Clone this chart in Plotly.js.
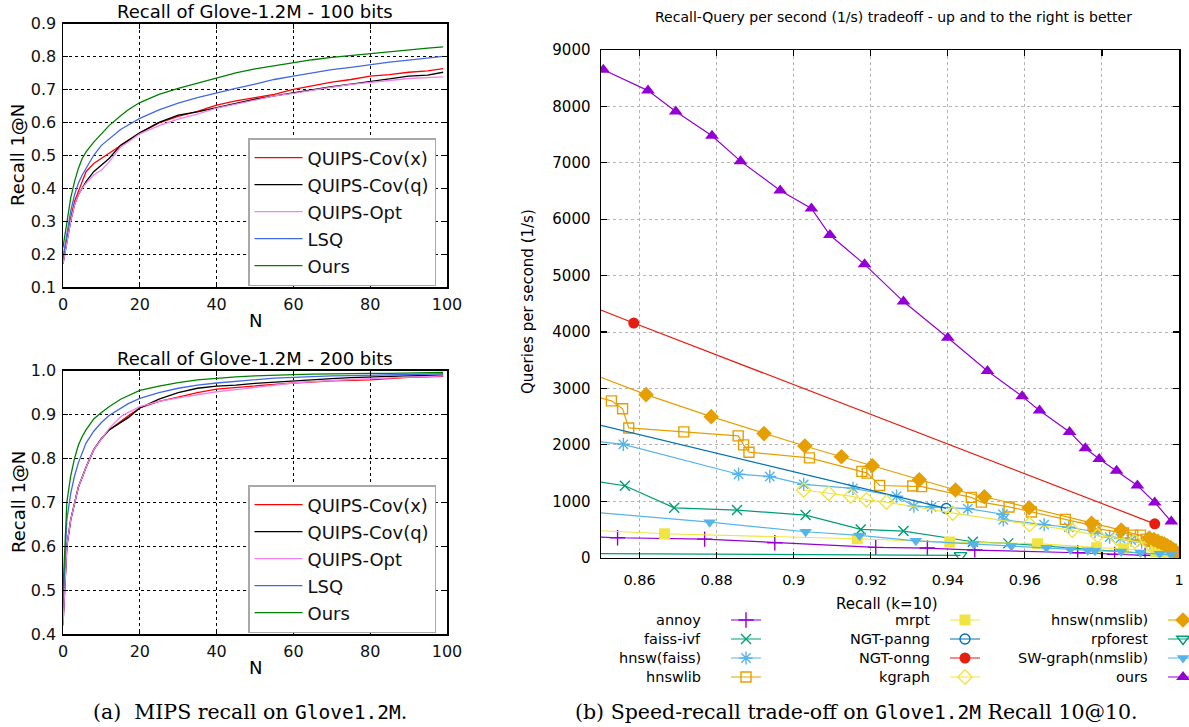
<!DOCTYPE html>
<html>
<head>
<meta charset="utf-8">
<script src="https://cdn.plot.ly/plotly-3.0.1.min.js"></script>
<style>
html,body{margin:0;padding:0;background:#ffffff;}
#chart{width:1189px;height:727px;}
</style>
</head>
<body>
<div id="chart"></div>
<script>
// ---------------- DATA: MIPS recall (left panels) ----------------
const nValues = [0,1,2,3,4,5,6,8,10,12,15,17,20,25,30,35,40,45,50,55,60,65,70,75,80,85,90,95,99];

// 100 bits
const r100CovX = [0.18,0.25,0.31,0.36,0.39,0.42,0.45,0.475,0.49,0.505,0.53,0.545,0.568,0.598,0.618,0.633,0.652,0.665,0.675,0.685,0.70,0.712,0.722,0.73,0.74,0.745,0.752,0.756,0.763];
const r100CovQ = [0.17,0.24,0.30,0.35,0.38,0.40,0.42,0.45,0.47,0.49,0.53,0.545,0.568,0.60,0.622,0.632,0.645,0.658,0.67,0.68,0.69,0.70,0.708,0.716,0.725,0.732,0.74,0.743,0.752];
const r100Opt  = [0.17,0.24,0.30,0.35,0.38,0.40,0.415,0.44,0.455,0.48,0.525,0.54,0.565,0.59,0.61,0.625,0.643,0.655,0.668,0.68,0.688,0.698,0.707,0.715,0.722,0.727,0.733,0.736,0.738];
const r100LSQ  = [0.19,0.26,0.33,0.38,0.415,0.44,0.46,0.50,0.53,0.55,0.578,0.592,0.612,0.638,0.658,0.675,0.69,0.703,0.716,0.73,0.74,0.75,0.76,0.767,0.776,0.783,0.789,0.795,0.80];
const r100Ours = [0.22,0.30,0.37,0.42,0.46,0.49,0.51,0.54,0.565,0.59,0.62,0.638,0.66,0.685,0.703,0.718,0.735,0.75,0.762,0.772,0.782,0.79,0.797,0.803,0.809,0.815,0.82,0.825,0.829];

// 200 bits
const r200CovX = [0.43,0.60,0.66,0.70,0.735,0.757,0.78,0.82,0.845,0.865,0.885,0.897,0.915,0.93,0.94,0.95,0.958,0.962,0.966,0.969,0.972,0.975,0.977,0.978,0.979,0.982,0.985,0.986,0.987];
const r200CovQ = [0.42,0.60,0.66,0.70,0.735,0.757,0.78,0.82,0.845,0.865,0.882,0.893,0.915,0.935,0.95,0.96,0.965,0.967,0.971,0.974,0.976,0.979,0.982,0.984,0.986,0.987,0.988,0.989,0.99];
const r200Opt  = [0.42,0.60,0.66,0.70,0.735,0.757,0.78,0.82,0.845,0.868,0.895,0.905,0.918,0.93,0.938,0.945,0.952,0.957,0.962,0.968,0.972,0.975,0.978,0.98,0.982,0.984,0.986,0.987,0.988];
const r200LSQ  = [0.47,0.66,0.72,0.76,0.79,0.815,0.835,0.862,0.882,0.898,0.915,0.925,0.937,0.95,0.96,0.967,0.972,0.976,0.98,0.983,0.985,0.987,0.988,0.989,0.99,0.991,0.992,0.992,0.993];
const r200Ours = [0.50,0.70,0.76,0.80,0.83,0.85,0.865,0.89,0.905,0.918,0.935,0.943,0.955,0.965,0.973,0.979,0.983,0.986,0.988,0.99,0.991,0.992,0.993,0.993,0.994,0.994,0.995,0.995,0.996];

const mipsNames = ['QUIPS-Cov(x)','QUIPS-Cov(q)','QUIPS-Opt','LSQ','Ours'];
const xTicks = [0,20,40,60,80,100];
const y100Ticks = [0.1,0.2,0.3,0.4,0.5,0.6,0.7,0.8,0.9];
const y200Ticks = [0.4,0.5,0.6,0.7,0.8,0.9,1.0];

// ---------------- DATA: speed / recall trade-off (right panel) ----------------
const annoyRecall = [0.84,0.8543,0.8769,0.8951,0.9213,0.9347,0.9470,0.9737,0.9833,0.9912,0.9976];
const annoyQps    = [394,354,330,265,183,171,136,88,59,41,30];

const faissIvfRecall = [0.84,0.8562,0.8690,0.8853,0.9031,0.9174,0.9285,0.9465,0.9557,0.9994];
const faissIvfQps    = [1444,1275,885,844,755,501,472,283,254,35];

const hnswFaissRecall = [0.84,0.8558,0.8857,0.8938,0.9026,0.9154,0.9267,0.9312,0.9358,0.9452,0.9543,0.9544,0.9650,0.9714,0.9782,0.9820,0.9848,0.9876,0.9903,0.9925,0.9945,0.9960,0.9980,0.9990];
const hnswFaissQps    = [2125,2010,1480,1440,1300,1230,1090,915,900,870,770,670,585,540,460,365,342,313,277,250,210,170,120,80];

const hnswlibRecall = [0.845,0.8527,0.8556,0.8572,0.8715,0.8856,0.8870,0.8884,0.9041,0.9177,0.9191,0.9223,0.9309,0.9332,0.9461,0.9487,0.9559,0.9617,0.9705,0.9777,0.9782,0.9856,0.9880,0.9900,0.9915,0.9930,0.9950,0.9965,0.9980,0.9990];
const hnswlibQps    = [2920,2780,2640,2300,2230,2160,2000,1870,1770,1530,1500,1280,1270,1260,1070,985,900,810,680,570,520,440,400,400,330,290,250,200,150,100];

const mrptRecall = [0.84,0.8665,0.9165,0.9405,0.9633,0.9786,0.9856,0.9940,0.9951,0.9970];
const mrptQps    = [510,425,336,277,248,177,159,112,100,80];

const ngtPanngRecall = [0.83,0.9396];
const ngtPanngQps    = [2677,873];

const ngtOnngRecall = [0.84,0.8585,0.9937];
const ngtOnngQps    = [4660,4160,600];

const kgraphRecall = [0.9026,0.9091,0.9148,0.9189,0.9241,0.9413,0.9612,0.9723,0.9789,0.9839,0.9885,0.9923,0.9945,0.9960,0.9975,0.9988];
const kgraphQps    = [1200,1140,1090,1025,985,790,590,485,390,348,289,248,210,170,130,90];

const hnswNmslibRecall = [0.84,0.8617,0.8786,0.8923,0.9029,0.9124,0.9204,0.9326,0.9420,0.9495,0.9611,0.9773,0.9850,0.9923,0.9935,0.9945,0.9955,0.9962,0.9970,0.9978,0.9985,0.9992,0.9996];
const hnswNmslibQps    = [3460,2890,2500,2200,1980,1790,1630,1380,1200,1080,885,610,490,350,320,290,260,240,210,180,140,100,60];

const rpforestRecall = [0.84,0.9433];
const rpforestQps    = [74,41];

const swGraphRecall = [0.84,0.8782,0.9031,0.9171,0.9317,0.9467,0.9565,0.9656,0.9718,0.9763,0.9782,0.9850,0.9900,0.9950,0.9980];
const swGraphQps    = [855,630,460,395,300,242,206,177,147,130,124,110,90,70,50];

const oursRecall = [0.8506,0.8622,0.8694,0.8788,0.8862,0.8965,0.9046,0.9094,0.9184,0.9285,0.9400,0.9503,0.9593,0.9638,0.9716,0.9757,0.9793,0.9838,0.9892,0.9937,0.9980];
const oursQps    = [8650,8280,7910,7480,7030,6510,6190,5720,5200,4540,3900,3310,2860,2610,2230,1940,1750,1540,1280,980,640];

const speedNames = ['annoy','faiss-ivf','hnsw(faiss)','hnswlib','mrpt','NGT-panng','NGT-onng','kgraph','hnsw(nmslib)','rpforest','SW-graph(nmslib)','ours'];
const recallTicks = [0.86,0.88,0.9,0.92,0.94,0.96,0.98,1.0];
const recallTickText = ['0.86','0.88','0.9','0.92','0.94','0.96','0.98','1'];
const qpsTicks = [0,1000,2000,3000,4000,5000,6000,7000,8000,9000];

// ---------------- LAYOUT HELPERS ----------------
const W = 1189, H = 727;
const px = v => v / W;
const py = v => 1 - v / H;
const SANS = 'DejaVu Sans, sans-serif';

const mipsColors = ['#ff0000','#000000','#ee82ee','#4169e1','#008000'];
const traces = [];

function addMips(series, xa, ya, leg) {
  series.forEach((ys, i) => {
    traces.push({
      x: nValues, y: ys, xaxis: xa, yaxis: ya, type: 'scatter', mode: 'lines',
      name: mipsNames[i], legend: leg, legendgroup: leg + i,
      line: {color: mipsColors[i], width: 1.3}, hoverinfo: 'skip'
    });
  });
}
addMips([r100CovX, r100CovQ, r100Opt, r100LSQ, r100Ours], 'x', 'y', 'legend4');
addMips([r200CovX, r200CovQ, r200Opt, r200LSQ, r200Ours], 'x2', 'y2', 'legend5');

const speedSeries = [
  [annoyRecall, annoyQps, '#9400d3', 'cross-thin-open', 11, 'legend'],
  [faissIvfRecall, faissIvfQps, '#009e73', 'x-thin-open', 10, 'legend'],
  [hnswFaissRecall, hnswFaissQps, '#56b4e9', 'asterisk-open', 11, 'legend'],
  [hnswlibRecall, hnswlibQps, '#e69f00', 'square-open', 10, 'legend'],
  [mrptRecall, mrptQps, '#f0e442', 'square', 11, 'legend2'],
  [ngtPanngRecall, ngtPanngQps, '#0072b2', 'circle-open', 10, 'legend2'],
  [ngtOnngRecall, ngtOnngQps, '#e51e10', 'circle', 11, 'legend2'],
  [kgraphRecall, kgraphQps, '#f0e442', 'diamond-open', 11, 'legend2'],
  [hnswNmslibRecall, hnswNmslibQps, '#e69f00', 'diamond', 12, 'legend3'],
  [rpforestRecall, rpforestQps, '#009e73', 'triangle-down-open', 11, 'legend3'],
  [swGraphRecall, swGraphQps, '#56b4e9', 'triangle-down', 11, 'legend3'],
  [oursRecall, oursQps, '#9400d3', 'triangle-up', 12, 'legend3']
];
speedSeries.forEach(s => {
  const open = s[3].indexOf('open') >= 0;
  traces.push({
    x: s[0], y: s[1], xaxis: 'x3', yaxis: 'y3', type: 'scatter', mode: 'lines+markers',
    name: '', legend: s[5], showlegend: true, hoverinfo: 'skip',
    line: {color: s[2], width: 1.2},
    marker: {symbol: s[3], size: s[4], color: s[2], line: {color: s[2], width: open ? 1.4 : 0}}
  });
});

// ---------------- AXES ----------------
function mipsX(dom, anchor) {
  return {domain: dom, anchor: anchor, range: [0, 100], tickmode: 'array', tickvals: xTicks,
    showgrid: true, gridcolor: '#000', griddash: 'dot', gridwidth: 1, zeroline: false,
    showline: true, linecolor: '#000', linewidth: 1.5, mirror: 'ticks', ticks: 'inside',
    ticklen: 5, tickcolor: '#000', tickfont: {family: SANS, size: 16, color: '#111'},
    ticklabelstandoff: 2};
}
function mipsY(dom, anchor, rng, tv) {
  return {domain: dom, anchor: anchor, range: rng, tickmode: 'array', tickvals: tv, tickformat: '.1f',
    showgrid: true, gridcolor: '#000', griddash: 'dot', gridwidth: 1, zeroline: false,
    showline: true, linecolor: '#000', linewidth: 1.5, mirror: 'ticks', ticks: 'inside',
    ticklen: 5, tickcolor: '#000', tickfont: {family: SANS, size: 16, color: '#111'},
    ticklabelstandoff: 2};
}

const mipsLegend = (top) => ({x: px(248), y: py(top), xanchor: 'left', yanchor: 'top', bgcolor: '#ffffff',
  bordercolor: '#a8a8a8', borderwidth: 1.5, font: {family: SANS, size: 18, color: '#111'},
  traceorder: 'grouped', tracegroupgap: 0.6, itemwidth: 48});
const speedLegend = (left) => ({x: px(left), y: py(605.5), xanchor: 'left', yanchor: 'top',
  bgcolor: 'rgba(0,0,0,0)', borderwidth: 0, font: {size: 10}});

const layout = {
  width: W, height: H,
  margin: {l: 0, r: 0, t: 0, b: 0, autoexpand: false},
  paper_bgcolor: '#ffffff', plot_bgcolor: '#ffffff',
  font: {family: SANS, color: '#000'},
  xaxis: mipsX([px(63), px(447)], 'y'),
  yaxis: mipsY([py(287), py(23.5)], 'x', [0.1, 0.9], y100Ticks),
  xaxis2: mipsX([px(63), px(447)], 'y2'),
  yaxis2: mipsY([py(634), py(370.7)], 'x2', [0.4, 1.0], y200Ticks),
  xaxis3: {domain: [px(601), px(1179)], anchor: 'y3', range: [0.85, 1.0], tickmode: 'array',
    tickvals: recallTicks, ticktext: recallTickText,
    showgrid: true, gridcolor: '#b4b4b4', griddash: 'dot', gridwidth: 1, zeroline: false,
    showline: true, linecolor: '#000', linewidth: 1.5, mirror: 'ticks', ticks: 'inside',
    ticklen: 6, tickwidth: 1.2, tickcolor: '#000', tickfont: {family: SANS, size: 14.5, color: '#000'},
    ticklabelstandoff: 8},
  yaxis3: {domain: [py(557.7), py(50)], anchor: 'x3', range: [0, 9000], tickmode: 'array',
    tickvals: qpsTicks,
    showgrid: true, gridcolor: '#b4b4b4', griddash: 'dot', gridwidth: 1, zeroline: false,
    showline: true, linecolor: '#000', linewidth: 1.5, mirror: 'ticks', ticks: 'inside',
    ticklen: 6, tickwidth: 1.2, tickcolor: '#000', tickfont: {family: SANS, size: 15, color: '#000'},
    ticklabelstandoff: 6},
  showlegend: true,
  legend: speedLegend(726),
  legend2: speedLegend(945),
  legend3: speedLegend(1163),
  legend4: mipsLegend(138),
  legend5: mipsLegend(485),
  annotations: []
};

const ann = layout.annotations;
function addText(text, x, y, size, opts) {
  ann.push(Object.assign({text: text, x: px(x), y: py(y), xref: 'paper', yref: 'paper', showarrow: false,
    xanchor: 'center', yanchor: 'middle', font: {family: SANS, size: size, color: '#000'}}, opts || {}));
}
// left panels
addText('Recall of Glove-1.2M - 100 bits', 255, 12, 18);
addText('Recall 1@N', 18, 155, 18, {textangle: -90});
addText('N', 255, 321, 18);
addText('Recall of Glove-1.2M - 200 bits', 255, 358, 18);
addText('Recall 1@N', 18, 502, 18, {textangle: -90});
addText('N', 255, 667, 18);
// right panel
addText('Recall-Query per second (1/s) tradeoff - up and to the right is better', 893, 17, 14);
addText('Queries per second (1/s)', 528, 302, 15, {textangle: -90});
addText('Recall (k=10)', 887, 604, 15);
// legend labels (gnuplot style: text left of sample)
const legendLabelRight = [703, 931.7, 1150];
const legendRows = [620, 639, 658, 677];
speedNames.forEach((nm, i) => {
  const col = Math.floor(i / 4), row = i % 4;
  addText(nm, legendLabelRight[col], legendRows[row], 14.5, {xanchor: 'right'});
});
// captions
const MONO = 'DejaVu Sans Mono, monospace';
const SERIF = {family: 'DejaVu Serif, serif', size: 20.5, color: '#000'};
addText('(a)\u00a0\u00a0MIPS recall on <span style="font-family:' + MONO + ';font-size:19.5px">Glove1.2M</span>.', 250, 712, 20.5,
  {font: SERIF});
addText('(b) Speed-recall trade-off on <span style="font-family:' + MONO + ';font-size:19.5px">Glove1.2M</span> Recall 10@10.', 857, 712, 20.5,
  {font: SERIF});

Plotly.newPlot('chart', traces, layout, {displayModeBar: false, staticPlot: true});
</script>
</body>
</html>
